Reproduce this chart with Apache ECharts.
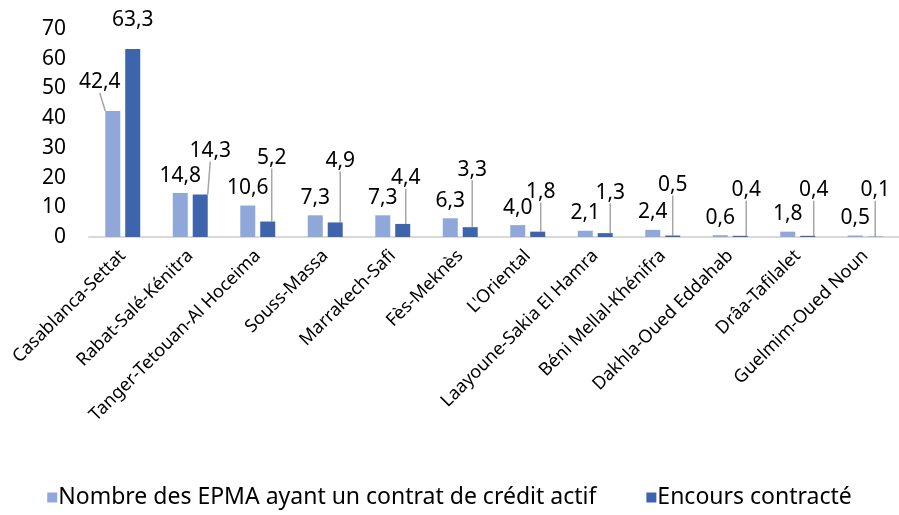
<!DOCTYPE html>
<html>
<head>
<meta charset="utf-8">
<script src="https://cdn.jsdelivr.net/npm/echarts@6/dist/echarts.min.js"></script>
<style>
  html, body { margin: 0; padding: 0; background: #fff; }
  #chart { width: 899px; height: 515px; }
</style>
</head>
<body>
<div id="chart"></div>
<script>
  const regions = ['Casablanca-Settat', 'Rabat-Salé-Kénitra', 'Tanger-Tetouan-Al Hoceima', 'Souss-Massa',
    'Marrakech-Safi', 'Fès-Meknès', "L'Oriental", 'Laayoune-Sakia El Hamra', 'Béni Mellal-Khénifra',
    'Dakhla-Oued Eddahab', 'Drâa-Tafilalet', 'Guelmim-Oued Noun']
  const nbEpma = [42.4, 14.8, 10.6, 7.3, 7.3, 6.3, 4.0, 2.1, 2.4, 0.6, 1.8, 0.5]
  const encours = [63.3, 14.3, 5.2, 4.9, 4.4, 3.3, 1.8, 1.3, 0.5, 0.4, 0.4, 0.1]
  const yTicks = [0, 10, 20, 30, 40, 50, 60, 70]

  // label shifts (px) from the default "top" spot, like the hand-moved Excel labels
  const lightShift = [[-13, -11], [0, 0], [0, 0], [0, 0], [0, 0], [0, 0], [0, 0], [0, 0], [0, 0], [0, 0], [0, 0], [0, 0]]
  const darkShift = [[0, -13], [10, -28], [4, -48], [5, -46], [3, -30], [2, -42], [3, -24], [5, -25], [0, -35], [6, -30], [6, -30], [0, -31]]
  // which labels keep a leader line
  const lightLine = [true, false, false, false, false, false, false, false, false, false, false, false]
  const darkLine = [false, true, true, true, true, true, true, true, true, true, true, true]

  const font = '"Noto Sans", sans-serif'
  const fmt = p => p.value.toFixed(1).replace('.', ',')
  const lineStyle = { color: '#A6A6A6', width: 1.5 }

  const chart = echarts.init(document.getElementById('chart'))
  const option = {
    animation: false,
    textStyle: { fontFamily: font },
    grid: { left: 89, right: -3, top: 29, bottom: 278 },
    legend: {
      bottom: 1,
      left: 'center',
      itemWidth: 10,
      itemHeight: 10,
      itemGap: 50,
      icon: 'rect',
      textStyle: { fontSize: 23, color: '#000', fontFamily: font, padding: [0, 0, 0, -4] },
      data: ['Nombre des EPMA ayant un contrat de crédit actif', 'Encours contracté']
    },
    xAxis: {
      type: 'category',
      data: regions,
      axisLine: { lineStyle: { color: '#D9D9D9', width: 2 } },
      axisTick: { show: false },
      axisLabel: { rotate: 45, fontSize: 18, color: '#000', margin: 16, interval: 0 }
    },
    yAxis: {
      type: 'value',
      min: yTicks[0],
      max: yTicks[yTicks.length - 1],
      interval: 10,
      axisLine: { show: false },
      axisTick: { show: false },
      splitLine: { show: false },
      axisLabel: { fontSize: 21, color: '#000', margin: 23 }
    },
    series: [
      {
        name: 'Nombre des EPMA ayant un contrat de crédit actif',
        type: 'bar',
        data: nbEpma.map((v, i) => ({ value: v, labelLine: { show: lightLine[i], lineStyle } })),
        barWidth: 15,
        barGap: '33%',
        itemStyle: { color: '#8FA8D9' },
        label: { show: true, position: 'top', distance: 7, fontSize: 21, color: '#000', formatter: fmt },
        labelLayout: p => ({ dx: lightShift[p.dataIndex][0], dy: lightShift[p.dataIndex][1] })
      },
      {
        name: 'Encours contracté',
        type: 'bar',
        data: encours.map((v, i) => ({ value: v, labelLine: { show: darkLine[i], lineStyle } })),
        barWidth: 15,
        itemStyle: { color: '#3D64AD' },
        label: { show: true, position: 'top', distance: 5, fontSize: 21, color: '#000', formatter: fmt },
        labelLayout: p => ({ dx: darkShift[p.dataIndex][0], dy: darkShift[p.dataIndex][1] })
      }
    ]
  }
  chart.setOption(option)
</script>
</body>
</html>
